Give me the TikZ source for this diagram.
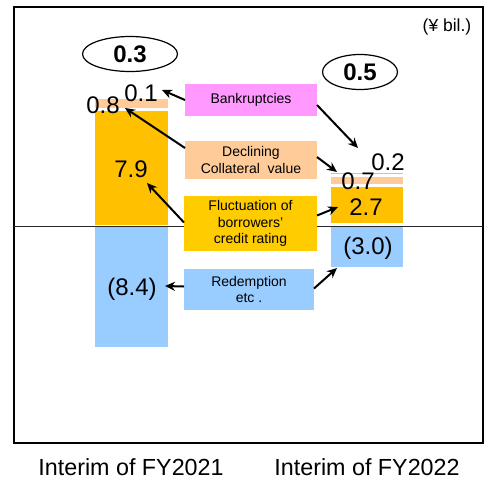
\documentclass[tikz,border=0pt]{standalone}
\usepackage{fontspec}
\setmainfont{Liberation Sans}
\usetikzlibrary{arrows.meta,shapes.geometric}
\definecolor{cOrange}{HTML}{FFC000}
\definecolor{cYellow}{HTML}{FFCC00}
\definecolor{cPeach}{HTML}{FFCC99}
\definecolor{cPink}{HTML}{FF99FF}
\definecolor{cBlue}{HTML}{99CCFF}
\begin{document}
\begin{tikzpicture}[x=1pt,y=-1pt,
  bar/.style={draw=none,inner sep=0,outer sep=0,anchor=north west},
  lbl/.style={font=\fontsize{24}{26}\selectfont,inner sep=0},
  cat/.style={inner sep=0,outer sep=0,align=center,anchor=north west,font=\fontsize{14}{16.5}\selectfont},
  arr/.style={line width=2pt,-{Stealth[length=10pt,width=9pt]}},
  tot/.style={draw,ellipse,line width=1.2pt,inner sep=0,font=\bfseries\fontsize{24}{26}\selectfont},
  axlbl/.style={font=\fontsize{23.3}{26}\selectfont,inner sep=0}]
\useasboundingbox (0,0) rectangle (494,480);
% frame
\draw[line width=2pt] (14,7) rectangle (483,443);
% left bar
\node[bar,fill=cPeach,minimum width=73pt,minimum height=9pt] (lpeach) at (95,99) {};
\node[bar,fill=cOrange,minimum width=73pt,minimum height=114pt] (lorange) at (95,111) {};
\node[bar,fill=cBlue,minimum width=73pt,minimum height=120pt] (lblue) at (95,227) {};
% right bar
\node[bar,fill=cPink,minimum width=72pt,minimum height=1.5pt] (rpink) at (331,172.5) {};
\node[bar,fill=cPeach,minimum width=72pt,minimum height=7pt] (rpeach) at (331,177) {};
\node[bar,fill=cOrange,minimum width=72pt,minimum height=36pt] (rorange) at (331,187) {};
\node[bar,fill=cBlue,minimum width=72pt,minimum height=40pt] (rblue) at (331,227) {};
% zero line
\draw[line width=0.9pt,black!85] (14,226) -- (483,226);
% category boxes
\node[cat,fill=cPink,minimum width=132pt,minimum height=32pt] (bank) at (185,84) {Bankruptcies};
\node[cat,fill=cPeach,minimum width=132pt,minimum height=38pt] (decl) at (185,141) {Declining\\Collateral\ \ value};
\node[cat,fill=cYellow,minimum width=133pt,minimum height=55pt] (fluct) at (184,196) {Fluctuation of\\borrowers'\\credit rating};
\node[cat,fill=cBlue,minimum width=130pt,minimum height=41pt] (redem) at (184,269) {Redemption\\etc .};
% value labels
\node[lbl] (v01) at (141,93) {0.1};
\node[lbl] (v08) at (103,105) {0.8};
\node[lbl] (v79) at (131,169) {7.9};
\node[lbl] (v84) at (132,289) {(8.4)};
\node[lbl] (v02) at (388,162) {0.2};
\node[lbl] (v07) at (358,181) {0.7};
\node[lbl] (v27) at (366,207) {2.7};
\node[lbl] (v30) at (368,248) {(3.0)};
% totals
\node[tot,minimum width=95pt,minimum height=35pt] (t03) at (130,54) {0.3};
\node[tot,minimum width=75pt,minimum height=35pt] (t05) at (360,72) {0.5};
% unit
\node[font=\fontsize{17.5}{20}\selectfont,inner sep=0] (unit) at (447,27) {(¥ bil.)};
% axis labels
\node[axlbl] (x1) at (131,467) {Interim of FY2021};
\node[axlbl] (x2) at (367,467) {Interim of FY2022};
% arrow tips
\coordinate (a1) at (162,90);
\coordinate (a2) at (358,148);
\coordinate (a3) at (125,108);
\coordinate (a4) at (337,172);
\coordinate (a5) at (147,183);
\coordinate (a6) at (338,207);
\coordinate (a7) at (165,286);
\coordinate (a8) at (337,268);
\draw[arr] (bank.west) -- (a1);
\draw[arr] ([yshift=-5pt]bank.east) -- (a2);
\draw[arr] ([yshift=-7pt]decl.north west) -- (a3);
\draw[arr] ([yshift=3pt]decl.east) -- (a4);
\draw[arr] ([yshift=1pt]fluct.west) -- (a5);
\draw[arr] ([yshift=8pt]fluct.east) -- (a6);
\draw[arr] ([yshift=3pt]redem.west) -- (a7);
\draw[arr] ([yshift=1pt]redem.east) -- (a8);
\end{tikzpicture}
\end{document}
